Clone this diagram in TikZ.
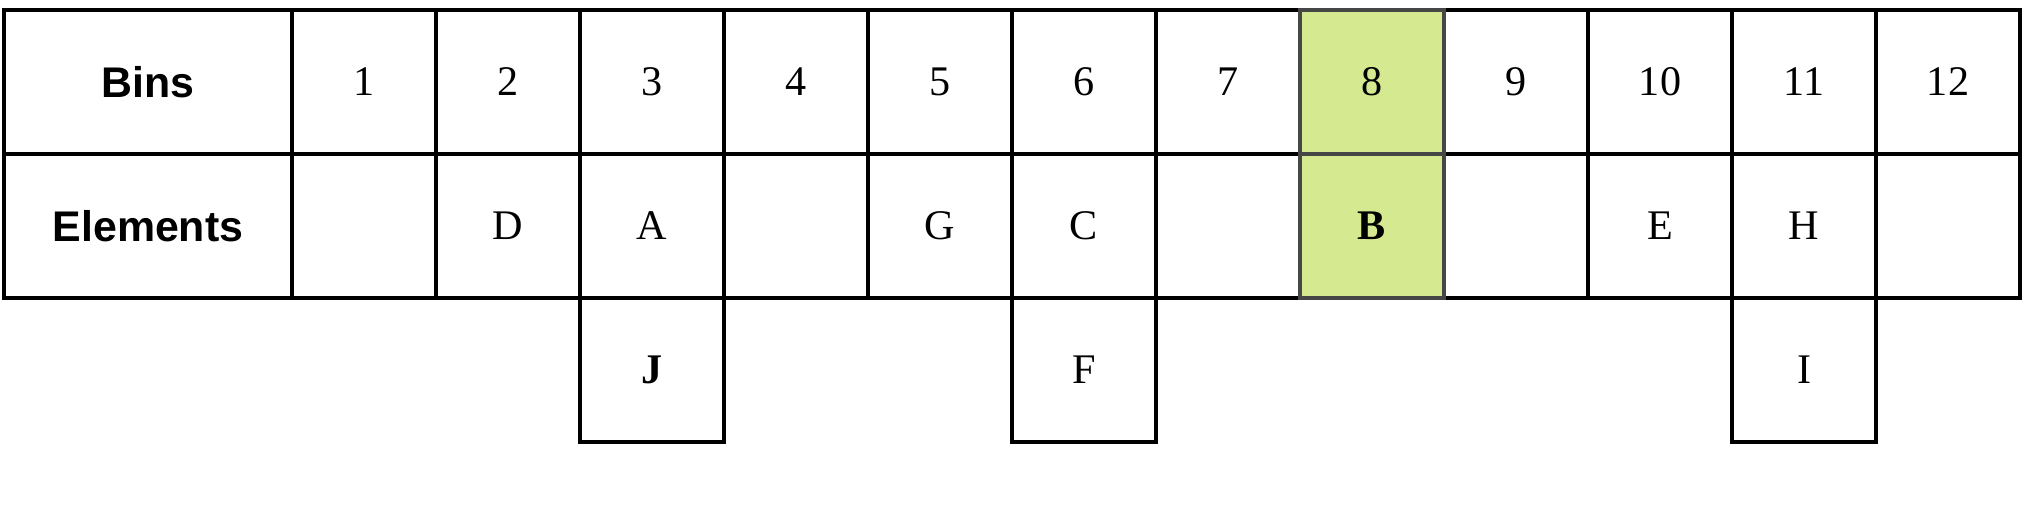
\documentclass[tikz,border=0pt]{standalone}
\usepackage{fontspec}
\setmainfont{Liberation Serif}
\newfontfamily\headfont{Liberation Sans}
\usepackage{tikz}
\definecolor{hitgreen}{RGB}{213,233,145}
\definecolor{hitedge}{RGB}{70,70,70}
\tikzset{
  cell/.style={draw,rectangle,line width=0.9pt,inner sep=0pt,
    minimum width=1.44cm,minimum height=1.44cm,font=\fontsize{12}{14}\selectfont},
  headcell/.style={cell,minimum width=2.88cm,font=\headfont\bfseries\fontsize{12.2}{14}\selectfont},
  hitcell/.style={cell,fill=hitgreen,draw=hitedge}
}
\begin{document}
\begin{tikzpicture}
\useasboundingbox (0,0) rectangle (20.30,-5.12);

% header column
\node [headcell] (bins) at (1.48,-0.82) {Bins};
\node [headcell] (elems) at (1.48,-2.26) {Elements};

% bin numbers
\node [cell] (b1) at (3.64,-0.82) {1};
\node [cell] (b2) at (5.08,-0.82) {2};
\node [cell] (b3) at (6.52,-0.82) {3};
\node [cell] (b4) at (7.96,-0.82) {4};
\node [cell] (b5) at (9.40,-0.82) {5};
\node [cell] (b6) at (10.84,-0.82) {6};
\node [cell] (b7) at (12.28,-0.82) {7};
\node [cell] (b9) at (15.16,-0.82) {9};
\node [cell] (b10) at (16.60,-0.82) {10};
\node [cell] (b11) at (18.04,-0.82) {11};
\node [cell] (b12) at (19.48,-0.82) {12};

% elements
\node [cell] (e1) at (3.64,-2.26) {};
\node [cell] (e2) at (5.08,-2.26) {D};
\node [cell] (e3) at (6.52,-2.26) {A};
\node [cell] (e4) at (7.96,-2.26) {};
\node [cell] (e5) at (9.40,-2.26) {G};
\node [cell] (e6) at (10.84,-2.26) {C};
\node [cell] (e7) at (12.28,-2.26) {};
\node [cell] (e9) at (15.16,-2.26) {};
\node [cell] (e10) at (16.60,-2.26) {E};
\node [cell] (e11) at (18.04,-2.26) {H};
\node [cell] (e12) at (19.48,-2.26) {};

% overflow
\node [cell] (j) at (6.52,-3.70) {\textbf{J}};
\node [cell] (f) at (10.84,-3.70) {F};
\node [cell] (i) at (18.04,-3.70) {I};

% looked-up bin
\node [hitcell] (b8) at (13.72,-0.82) {8};
\node [hitcell] (e8) at (13.72,-2.26) {\textbf{B}};
\end{tikzpicture}
\end{document}
